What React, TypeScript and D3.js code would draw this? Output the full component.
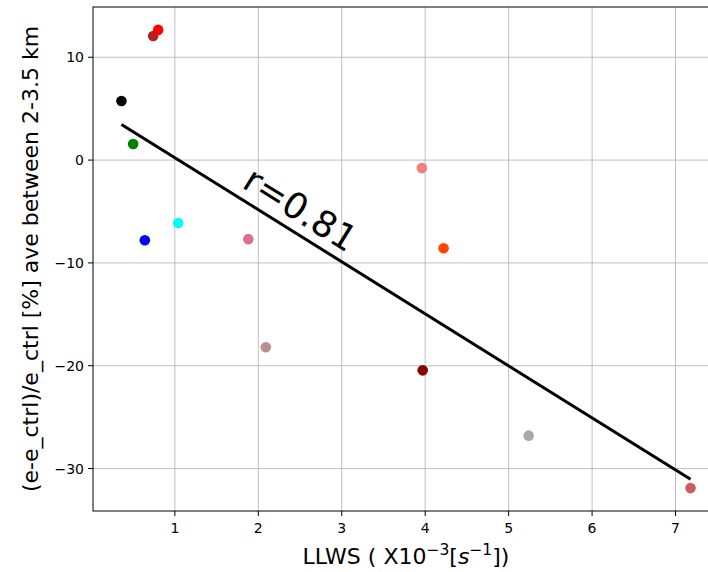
import { useEffect, useRef } from 'react'
import * as d3 from 'd3'

// LLWS (x1e-3 s^-1) vs % change, one colour per case
const llws = [0.74, 0.80, 0.36, 0.50, 0.64, 1.04, 1.88, 2.09, 3.96, 4.22, 3.97, 5.24, 7.18]
const change = [12.07, 12.66, 5.74, 1.56, -7.79, -6.13, -7.69, -18.2, -0.78, -8.57, -20.45, -26.8, -31.9]
const colors = ['firebrick', 'red', 'black', 'green', 'blue', 'cyan', 'palevioletred', 'rosybrown',
  'lightcoral', 'orangered', 'darkred', 'darkgray', 'indianred']
const xTicks = [1, 2, 3, 4, 5, 6, 7]
const yTicks = [10, 0, -10, -20, -30]
const rLabel = 'r=0.81'

const W = 708, H = 572
const M = { left: 93, top: 7, right: 719, bottom: 511 }
const FONT = '"DejaVu Sans", sans-serif'

export default function App() {
  const svgRef = useRef<SVGSVGElement>(null)

  useEffect(() => {
    const svg = d3.select(svgRef.current)
    svg.selectAll('*').remove()

    // matplotlib-style 5% margins
    const [x0, x1] = d3.extent(llws) as [number, number]
    const [y0, y1] = d3.extent(change) as [number, number]
    const px = (x1 - x0) * 0.05, py = (y1 - y0) * 0.05
    const x = d3.scaleLinear().domain([x0 - px, x1 + px]).range([M.left, M.right])
    const y = d3.scaleLinear().domain([y0 - py, y1 + py]).range([M.bottom, M.top])

    // grid
    const grid = svg.append('g').attr('stroke', '#b0b0b0').attr('stroke-width', 0.8)
    xTicks.forEach(t => grid.append('line').attr('x1', x(t)).attr('x2', x(t)).attr('y1', M.top).attr('y2', M.bottom))
    yTicks.forEach(t => grid.append('line').attr('x1', M.left).attr('x2', M.right).attr('y1', y(t)).attr('y2', y(t)))

    // least-squares fit
    const mx = d3.mean(llws)!, my = d3.mean(change)!
    let sxy = 0, sxx = 0
    llws.forEach((v, i) => { sxy += (v - mx) * (change[i] - my); sxx += (v - mx) ** 2 })
    const slope = sxy / sxx, icpt = my - slope * mx

    // points
    svg.append('g').selectAll('circle')
      .data(llws.map((v, i) => ({ x: v, y: change[i], c: colors[i] })))
      .join('circle')
      .attr('cx', d => x(d.x)).attr('cy', d => y(d.y)).attr('r', 5.3)
      .attr('fill', d => d.c)

    svg.append('line')
      .attr('x1', x(x0)).attr('y1', y(icpt + slope * x0))
      .attr('x2', x(x1)).attr('y2', y(icpt + slope * x1))
      .attr('stroke', 'black').attr('stroke-width', 3)

    // r label, rotated along the fit
    const ang = Math.atan2(y(icpt + slope * x1) - y(icpt + slope * x0), x(x1) - x(x0)) * 180 / Math.PI
    svg.append('text')
      .attr('transform', `translate(${x(1.79)},${y(-2.6)}) rotate(${ang})`)
      .attr('font-family', FONT).attr('font-size', 36).attr('fill', 'black')
      .text(rLabel)

    // spines
    svg.append('rect').attr('x', M.left).attr('y', M.top)
      .attr('width', M.right - M.left).attr('height', M.bottom - M.top)
      .attr('fill', 'none').attr('stroke', 'black').attr('stroke-width', 1)

    // ticks
    const tk = svg.append('g').attr('font-family', FONT).attr('font-size', 14).attr('fill', 'black')
    xTicks.forEach(t => {
      tk.append('line').attr('x1', x(t)).attr('x2', x(t)).attr('y1', M.bottom).attr('y2', M.bottom + 5).attr('stroke', 'black')
      tk.append('text').attr('x', x(t)).attr('y', M.bottom + 22).attr('text-anchor', 'middle').text(d3.format('d')(t))
    })
    yTicks.forEach(t => {
      tk.append('line').attr('x1', M.left - 5).attr('x2', M.left).attr('y1', y(t)).attr('y2', y(t)).attr('stroke', 'black')
      tk.append('text').attr('x', M.left - 9).attr('y', y(t) + 5).attr('text-anchor', 'end')
        .text(t < 0 ? '\u2212' + Math.abs(t) : String(t))
    })

    // axis labels
    const xl = svg.append('text').attr('x', (M.left + M.right) / 2).attr('y', 564)
      .attr('text-anchor', 'middle').attr('font-family', FONT).attr('font-size', 22)
    xl.append('tspan').text('LLWS ( X10')
    xl.append('tspan').attr('dy', -9).attr('font-size', 15.5).text('\u22123')
    xl.append('tspan').attr('dy', 9).text('[')
    xl.append('tspan').attr('font-style', 'italic').text('s')
    xl.append('tspan').attr('dy', -9).attr('font-size', 15.5).text('\u22121')
    xl.append('tspan').attr('dy', 9).text('])')

    svg.append('text')
      .attr('transform', `translate(38,${(M.top + M.bottom) / 2}) rotate(-90)`)
      .attr('text-anchor', 'middle').attr('font-family', FONT).attr('font-size', 22)
      .text('(e-e_ctrl)/e_ctrl [%] ave between 2-3.5 km')
  }, [])

  return (
    <svg ref={svgRef} width={W} height={H}
      style={{ position: 'absolute', left: 0, top: 0, background: 'white' }} />
  )
}
